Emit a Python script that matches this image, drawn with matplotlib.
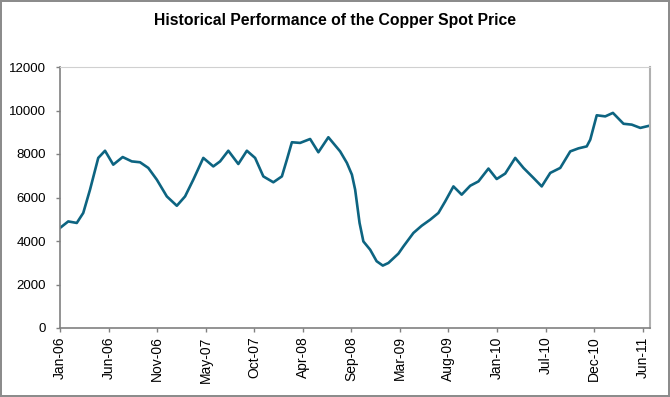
import matplotlib
matplotlib.use("Agg")
import matplotlib.pyplot as plt
import matplotlib.dates as mdates
import numpy as np
import datetime as dt

dates = ["2006-01-01","2006-01-29","2006-02-27","2006-03-21","2006-04-13","2006-05-11","2006-06-03",
         "2006-07-01","2006-08-02","2006-09-02","2006-09-30","2006-10-28","2006-11-26","2006-12-30",
         "2007-02-02","2007-03-02","2007-03-30","2007-05-03","2007-06-06","2007-06-29","2007-07-27",
         "2007-08-30","2007-09-28","2007-10-26","2007-11-23","2007-12-27","2008-01-25","2008-02-11",
         "2008-02-28","2008-03-27","2008-04-30","2008-05-28","2008-07-01","2008-08-10","2008-09-02",
         "2008-09-19","2008-09-30","2008-10-15","2008-10-28","2008-11-20","2008-12-12","2009-01-02",
         "2009-01-21","2009-02-24","2009-03-13","2009-04-16","2009-05-14","2009-06-12","2009-07-10",
         "2009-08-02","2009-08-30","2009-09-27","2009-10-26","2009-11-23","2009-12-27","2010-01-24",
         "2010-02-22","2010-03-28","2010-04-25","2010-05-29","2010-06-26","2010-07-25","2010-08-28",
         "2010-10-01","2010-10-29","2010-11-26","2010-12-08","2010-12-30","2011-01-28","2011-02-23",
         "2011-03-31","2011-04-28","2011-05-27","2011-06-27"]
prices = [4600,4900,4830,5290,6360,7820,8150,
          7510,7860,7660,7620,7360,6820,6050,
          5620,6050,6820,7820,7430,7660,8150,
          7540,8150,7820,6970,6700,6970,7740,
          8540,8510,8690,8080,8770,8120,7590,
          7050,6360,4830,3980,3600,3070,2870,
          2990,3420,3750,4370,4700,4980,5290,
          5820,6510,6130,6540,6740,7330,6850,
          7100,7820,7360,6900,6510,7130,7360,
          8120,8260,8350,8660,9780,9730,9890,
          9390,9350,9200,9300]
tick_labels = ["Jan-06","Jun-06","Nov-06","May-07","Oct-07","Apr-08","Sep-08",
               "Mar-09","Aug-09","Jan-10","Jul-10","Dec-10","Jun-11"]
yticks = [0, 2000, 4000, 6000, 8000, 10000, 12000]
title = "Historical Performance of the Copper Spot Price"

plt.rcParams['font.family'] = ['Liberation Sans', 'DejaVu Sans']

x = [dt.datetime.strptime(d, "%Y-%m-%d") for d in dates]
start = dt.datetime(2006, 1, 1)
tick_pos = [start + dt.timedelta(days=165 * i) for i in range(len(tick_labels))]

fig = plt.figure(figsize=(6.7, 3.97), dpi=100, edgecolor='#8c8c8c', linewidth=1.5)
ax = fig.add_axes([60/670, 1-328/397, 590/670, 261/397])
ax.plot(x, prices, color='#0d6481', linewidth=1.9, solid_joinstyle='round')

ax.set_xlim(start, dt.datetime(2011, 6, 29))
ax.set_ylim(0, 12000)
ax.set_yticks(yticks)
ax.set_yticklabels([str(v) for v in yticks], fontsize=9.5)
ax.set_xticks(mdates.date2num(tick_pos))
ax.set_xticklabels(tick_labels, rotation=90, fontsize=10)
ax.tick_params(axis='both', direction='out', length=3, color='#808080', width=1)
ax.tick_params(axis='y', pad=7)
ax.tick_params(axis='x', pad=3)

for s in ['left', 'bottom']:
    ax.spines[s].set_color('#808080')
    ax.spines[s].set_linewidth(1.2)
ax.spines['top'].set_color('#d0d0d0')
ax.spines['right'].set_color('#b0b0b0')
ax.spines['right'].set_linewidth(1.5)

fig.text(335/670, 1-20/397, title, ha='center', va='center', fontsize=11.3, fontweight='bold')

fig.savefig("out.png", dpi=100, edgecolor=fig.get_edgecolor())
